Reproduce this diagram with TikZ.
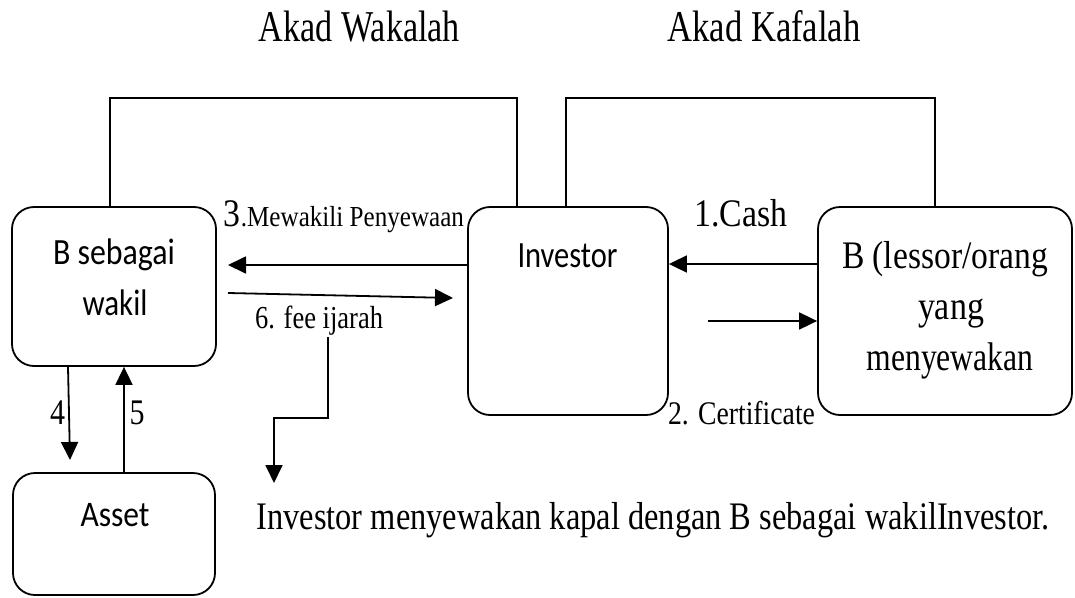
\documentclass[tikz,border=0pt]{standalone}
\usepackage{fontspec}
\usepackage{graphicx}
\setmainfont{Liberation Serif}
\newfontfamily\calfont{Carlito}
\usetikzlibrary{arrows.meta}
\newcommand{\fitw}[2]{\resizebox{#1}{\height}{#2}}
\newcommand{\fs}[1]{\fontsize{#1}{#1}\selectfont}
\begin{document}
\begin{tikzpicture}[x=1pt,y=-1pt,line width=1.8pt,
  box/.style={draw,rounded corners=22pt,inner sep=0pt},
  arr/.style={-{Triangle[length=18pt,width=17pt]}},
  txt/.style={inner sep=0pt,anchor=base}]
\useasboundingbox (0,0) rectangle (1075,597);

% boxes
\node[box,minimum width=204pt,minimum height=159pt] (wakil) at (114,286.5) {};
\node[box,minimum width=200pt,minimum height=208pt] (inv) at (568,311) {};
\node[box,minimum width=254pt,minimum height=208pt] (les) at (945,311) {};
\node[box,minimum width=202pt,minimum height=122pt] (asset) at (114,534) {};

% texts
\node[txt] (tw) at (359.5,41) {\fs{44}\fitw{201pt}{Akad Wakalah}};
\node[txt] (tk) at (764,41) {\fs{44}\fitw{193pt}{Akad Kafalah}};
\node[txt] (wt1) at (114,264) {\calfont\fs{37}\fitw{122pt}{B sebagai}};
\node[txt] (wt2) at (115,315) {\calfont\fs{37}\fitw{65pt}{wakil}};
\node[txt] (invt) at (567.5,267) {\calfont\fs{37}\fitw{100pt}{Investor}};
\node[txt] (lt1) at (945,268) {\fs{39}\fitw{206pt}{B (lessor/orang}};
\node[txt] (lt2) at (951,319) {\fs{40}\fitw{66pt}{yang}};
\node[txt] (lt3) at (950,370) {\fs{40}\fitw{167pt}{menyewakan}};
\node[txt] (at) at (115,526) {\calfont\fs{36}\fitw{69pt}{Asset}};
\node[txt] (l3) at (344,226) {\fitw{240pt}{\fs{39}3\fs{29}.Mewakili Penyewaan}};
\node[txt] (l6) at (319,328) {\fs{32}\fitw{128pt}{6. fee ijarah}};
\node[txt] (l1) at (741,226) {\fs{39}\fitw{93pt}{1.Cash}};
\node[txt] (l2) at (741.5,424) {\fs{33}\fitw{147pt}{2. Certificate}};
\node[txt] (l4) at (57.5,424) {\fs{36}\fitw{15pt}{4}};
\node[txt] (l5) at (137,424) {\fs{36}\fitw{15pt}{5}};
\node[txt] (bt) at (653,529) {\fs{39}\fitw{793pt}{Investor menyewakan kapal dengan B sebagai wakilInvestor.}};

% top connectors
\coordinate (t1) at (110,98);
\coordinate (t2) at (517,98);
\coordinate (t3) at (566,98);
\coordinate (t4) at (935,98);
\draw (wakil.north -| t1) -- (t1) -- (t2) -- (inv.north -| t2);
\draw (inv.north -| t3) -- (t3) -- (t4) -- (les.north -| t4);

% arrows
\coordinate (a3) at (228,265);
\draw[arr] (inv.west |- a3) -- (a3);
\coordinate (a6s) at (228,293);
\coordinate (a6e) at (453,298);
\draw[arr] (a6s) -- (a6e);
\coordinate (c1) at (0,264);
\draw[arr] (les.west |- c1) -- (inv.east |- c1);
\coordinate (c2) at (708,321);
\draw[arr] (c2) -- (les.west |- c2);
\coordinate (c4s) at (68,0);
\coordinate (c4) at (70,460);
\draw[arr] (wakil.south -| c4s) -- (c4);
\coordinate (c5) at (124,0);
\draw[arr] (asset.north -| c5) -- (wakil.south -| c5);
\coordinate (f1) at (328,337);
\coordinate (f2) at (328,418);
\coordinate (f3) at (274,418);
\coordinate (f4) at (274,483);
\draw[arr] (f1) -- (f2) -- (f3) -- (f4);
\end{tikzpicture}
\end{document}
